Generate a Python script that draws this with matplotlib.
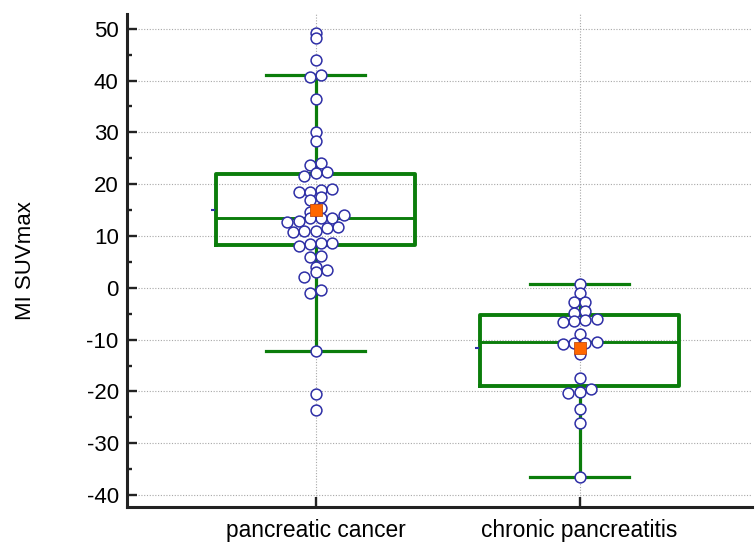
import numpy as np
import matplotlib
matplotlib.use('Agg')
import matplotlib.pyplot as plt
from matplotlib.ticker import MultipleLocator

plt.rcParams['font.family'] = ['Liberation Sans', 'DejaVu Sans']
plt.rcParams['axes.unicode_minus'] = False

# data
groups = ['pancreatic cancer', 'chronic pancreatitis']

cancer = np.array([49.13, 48.17, 43.98, 41.08, 40.64, 36.45, 30.14, 28.40, 24.03, 23.71,
                   22.30, 22.10, 21.64, 19.07, 18.88, 18.44, 18.44, 17.47, 16.95, 15.35,
                   14.69, 14.05, 13.53, 13.53, 13.42, 12.90, 12.76, 11.68, 11.49, 11.02,
                   11.02, 10.83, 8.59, 8.59, 8.40, 8.07, 6.20, 6.00, 4.07, 3.44,
                   3.11, 2.03, -0.42, -1.06, -12.14, -20.56, -23.59])
pancreatitis = np.array([0.73, -0.95, -2.80, -2.80, -4.42, -4.81, -5.97, -6.22, -6.41, -6.60,
                         -8.98, -10.52, -10.71, -10.71, -10.91, -12.78, -17.47, -19.59, -20.12,
                         -20.25, -23.46, -26.16, -36.58])

# quartiles as drawn by the original software
q1 = [8.3, -19.0]
q3 = [22.0, -5.25]

data = [cancer, pancreatitis]
positions = [1, 2]

GREEN = '#0b7d0b'
NAVY = '#2e2fa6'
ORANGE = '#ff6600'

box_w = 0.755
cap_w = 0.372
dot_step = 0.0428   # horizontal spacing of dots in a row
row_h = 2.085       # height of one row of dots (value units)


def dot_offsets(values, med, lo, hi):
    # spread dots that fall in the same row, outliers stay on the centre line
    offs = np.zeros(len(values))
    idx = np.arange(len(values))
    inside = (values >= lo) & (values <= hi)
    rows = np.floor((values - (med + 0.66)) / row_h)
    for r in np.unique(rows[inside]):
        members = idx[inside & (rows == r)]
        members = members[np.argsort(values[members], kind='stable')]
        n = len(members)
        offs[members] = (np.arange(n) - (n - 1) / 2) * dot_step
    return offs


fig = plt.figure(figsize=(7.55, 5.42), dpi=100)
ax = fig.add_axes([127 / 755, 35 / 542, 625 / 755, 493 / 542])

stats = []
for i, vals in enumerate(data):
    iqr = q3[i] - q1[i]
    lo_f, hi_f = q1[i] - 1.5 * iqr, q3[i] + 1.5 * iqr
    stats.append(dict(med=np.median(vals), q1=q1[i], q3=q3[i],
                      whislo=vals[vals >= lo_f].min(), whishi=vals[vals <= hi_f].max(),
                      mean=vals.mean(), fliers=[]))

ax.bxp(stats, positions=positions, widths=box_w, capwidths=cap_w, showfliers=False,
       boxprops=dict(color=GREEN, lw=2.8),
       medianprops=dict(color=GREEN, lw=2.1),
       whiskerprops=dict(color=GREEN, lw=2.3),
       capprops=dict(color=GREEN, lw=2.3),
       zorder=2)

for i, vals in enumerate(data):
    st = stats[i]
    offs = dot_offsets(vals, st['med'], st['whislo'], st['whishi'])
    ax.plot(positions[i] + offs, vals, 'o', ms=7.8, mfc='white', mec=NAVY, mew=1.1,
            zorder=3, clip_on=False)
    ax.plot(positions[i], st['mean'], 's', ms=8.3, mfc=ORANGE, mec='#c04a10', mew=0.6, zorder=4)
    ax.plot(positions[i] - box_w / 2 - 0.01, st['mean'], '_', ms=3, mew=1.5, color=NAVY, zorder=4)

ax.set_xlim(0.286, 2.653)
ax.set_ylim(-42.3, 52.85)
ax.set_xticks(positions)
ax.set_xticklabels(groups, fontsize=16.4)
ax.yaxis.set_major_locator(MultipleLocator(10))
ax.yaxis.set_minor_locator(MultipleLocator(5))
ax.set_ylabel('MI SUVmax', fontsize=16, labelpad=36)

ax.tick_params(axis='both', which='major', direction='in', length=7, width=1.7,
               labelsize=16, color='#222222')
ax.tick_params(axis='y', which='minor', direction='in', length=3.5, width=1.7, color='#222222')
ax.tick_params(axis='y', which='major', pad=6)
ax.tick_params(axis='x', which='major', pad=9, labelsize=16.4)

ax.set_axisbelow(True)
ax.grid(True, which='major', color='#a8a8a8', linestyle=(0, (1, 1.5)), lw=0.8)

for s in ['top', 'right']:
    ax.spines[s].set_visible(False)
for s in ['left', 'bottom']:
    ax.spines[s].set_linewidth(2.2)
    ax.spines[s].set_color('#222222')

fig.savefig('out.png', dpi=100)
